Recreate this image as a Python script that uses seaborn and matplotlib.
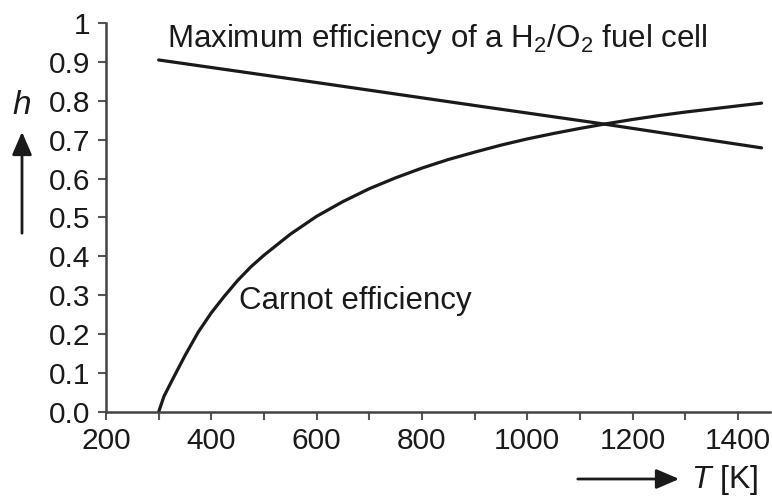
import numpy as np
import pandas as pd
import matplotlib
matplotlib.use("Agg")
import matplotlib.pyplot as plt
import seaborn as sns

# values
carnot_T = [300, 310, 325, 350, 375, 400, 425, 450, 475, 500, 550, 600, 650, 700, 750, 800,
            850, 900, 950, 1000, 1050, 1100, 1150, 1200, 1250, 1300, 1350, 1400, 1445]
carnot_eta = [0.0, 0.04, 0.08, 0.145, 0.205, 0.255, 0.298, 0.338, 0.373, 0.403, 0.457, 0.503, 0.541,
              0.574, 0.602, 0.627, 0.649, 0.668, 0.686, 0.702, 0.716, 0.729, 0.741, 0.752, 0.762,
              0.771, 0.779, 0.787, 0.794]
fuel_T = [300, 600, 900, 1132, 1445]
fuel_eta = [0.905, 0.847, 0.788, 0.743, 0.679]

xticks = [200, 400, 600, 800, 1000, 1200, 1400]
yticks = [0, 0.1, 0.2, 0.3, 0.4, 0.5, 0.6, 0.7, 0.8, 0.9, 1.0]
ytick_labels = ["0.0", "0.1", "0.2", "0.3", "0.4", "0.5", "0.6", "0.7", "0.8", "0.9", "1"]

sns.set_style("ticks")
plt.rcParams["font.family"] = ["Liberation Sans", "DejaVu Sans"]
plt.rcParams["mathtext.fontset"] = "custom"
plt.rcParams["mathtext.rm"] = "Liberation Sans"
plt.rcParams["mathtext.it"] = "Liberation Sans:italic"

ink = "#1a1a1a"
carnot = pd.DataFrame({"T": carnot_T, "eta": carnot_eta})
fuel = pd.DataFrame({"T": fuel_T, "eta": fuel_eta})

fig = plt.figure(figsize=(7.72, 4.96), dpi=100)
ax = fig.add_axes([0.1373, 0.1694, 0.8601, 0.7842])
sns.lineplot(carnot, x="T", y="eta", ax=ax, color=ink, lw=2.3)
sns.lineplot(fuel, x="T", y="eta", ax=ax, color=ink, lw=2.3)

ax.set_xlim(200, 1461)
ax.set_ylim(0, 1)
ax.set_xticks(xticks)
ax.set_xticks(range(300, 1461, 200), minor=True)
ax.set_yticks(yticks)
ax.set_yticklabels(ytick_labels)
ax.tick_params(axis="both", which="both", color="#555555", width=1.5, labelsize=21.5,
               labelcolor=ink, length=6, pad=5)
ax.set_xlabel("")
ax.set_ylabel("")
sns.despine(ax=ax)
for s in ["left", "bottom"]:
    ax.spines[s].set_linewidth(1.8)
    ax.spines[s].set_color("#444444")

ax.text(316, 0.959, "Maximum efficiency of a H$_2$/O$_2$ fuel cell", fontsize=22.5, color=ink, va="center")
ax.text(452, 0.285, "Carnot efficiency", fontsize=22.5, color=ink, va="center")

# axis labels with arrows, as in the original
fig.text(22 / 772, 1 - 105 / 496, "h", fontsize=24, style="italic", ha="center", va="center", color=ink)
fig.add_artist(matplotlib.patches.FancyArrowPatch((22 / 772, 1 - 236 / 496), (22 / 772, 1 - 129 / 496),
               transform=fig.transFigure, arrowstyle="-|>,head_length=0.7,head_width=0.3",
               mutation_scale=20, color=ink, lw=2))
fig.add_artist(matplotlib.patches.FancyArrowPatch((575 / 772, 1 - 479 / 496), (682 / 772, 1 - 479 / 496),
               transform=fig.transFigure, arrowstyle="-|>,head_length=0.7,head_width=0.3",
               mutation_scale=20, color=ink, lw=2))
fig.text(691 / 772, 1 - 480 / 496, "$\\mathit{T}$ [K]", fontsize=23, ha="left", va="center", color=ink)

fig.savefig("out.png", dpi=100)
